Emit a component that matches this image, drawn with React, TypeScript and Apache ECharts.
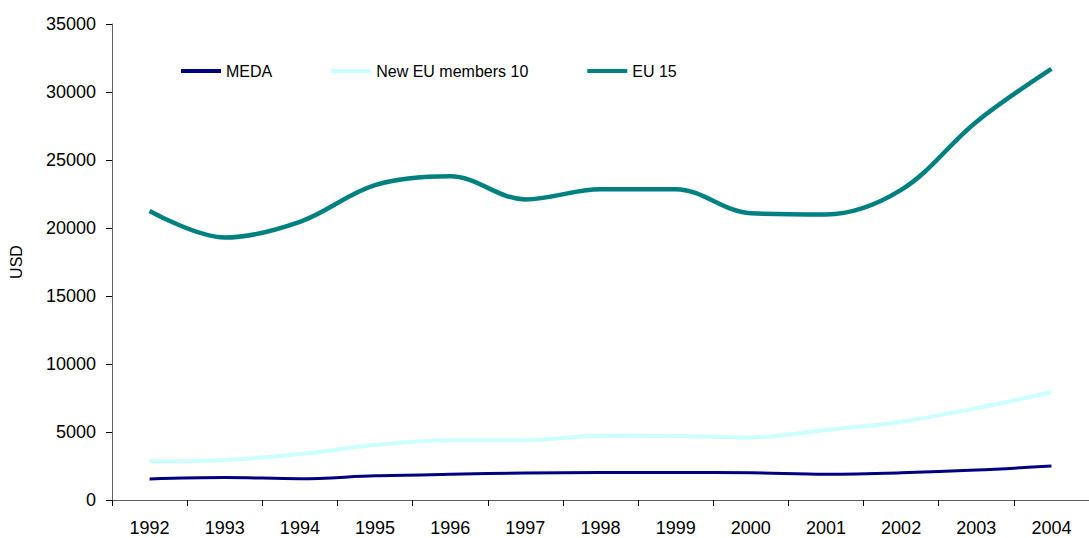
import React, { useEffect, useRef } from "react";
import * as echarts from "echarts";

const years = ["1992", "1993", "1994", "1995", "1996", "1997", "1998", "1999", "2000", "2001", "2002", "2003", "2004"];
const meda = [1550, 1650, 1570, 1780, 1890, 1980, 2020, 2020, 2000, 1900, 2000, 2200, 2500];
const newEU10 = [2850, 2950, 3380, 4040, 4390, 4400, 4730, 4700, 4600, 5150, 5760, 6740, 7920];
const eu15 = [21250, 19300, 20450, 23150, 23800, 22100, 22850, 22850, 21080, 21000, 22800, 27800, 31700];

const FONT = "'Liberation Sans', Arial, sans-serif";

export default function App() {
  const ref = useRef<HTMLDivElement>(null);
  useEffect(() => {
    if (!ref.current) return;
    const chart = echarts.init(ref.current, undefined, { renderer: "svg" });
    const axisLine = { show: true, lineStyle: { color: "#606060", width: 1 } };
    chart.setOption({
      animation: false,
      backgroundColor: "#ffffff",
      textStyle: { fontFamily: FONT },
      grid: { left: 112, top: 24, width: 986, height: 476 },
      legend: {
        left: 176,
        top: 58,
        icon: "rect",
        itemWidth: 40,
        itemHeight: 4,
        itemGap: 59,
        textStyle: { fontFamily: FONT, fontSize: 16, color: "#000" },
        data: ["MEDA", "New EU members 10", "EU 15"],
      },
      xAxis: {
        type: "category",
        data: years,
        boundaryGap: true,
        axisLine,
        axisTick: { show: true, length: 6, lineStyle: { color: "#000" } },
        axisLabel: { color: "#000", fontSize: 18, margin: 19, fontFamily: FONT },
        splitLine: { show: false },
      },
      yAxis: {
        type: "value",
        min: 0,
        max: 35000,
        interval: 5000,
        name: "USD",
        nameLocation: "middle",
        nameGap: 88,
        nameRotate: 90,
        nameTextStyle: { color: "#000", fontSize: 16, fontFamily: FONT },
        axisLine,
        axisTick: { show: true, length: 6, lineStyle: { color: "#000" } },
        axisLabel: {
          color: "#000",
          fontSize: 18,
          margin: 16,
          fontFamily: FONT,
          formatter: (v: number) => String(v),
        },
        splitLine: { show: false },
      },
      series: [
        {
          name: "MEDA",
          type: "line",
          data: meda,
          smooth: 0.35,
          symbol: "none",
          lineStyle: { color: "#000080", width: 3 },
          itemStyle: { color: "#000080" },
        },
        {
          name: "New EU members 10",
          type: "line",
          data: newEU10,
          smooth: 0.35,
          symbol: "none",
          lineStyle: { color: "#CCFFFF", width: 4 },
          itemStyle: { color: "#CCFFFF" },
        },
        {
          name: "EU 15",
          type: "line",
          data: eu15,
          smooth: 0.35,
          symbol: "none",
          lineStyle: { color: "#008080", width: 4.5 },
          itemStyle: { color: "#008080" },
        },
      ],
    });
    return () => chart.dispose();
  }, []);
  return (
    <div
      ref={ref}
      style={{ position: "fixed", left: 0, top: 0, width: 1089, height: 538, background: "#fff" }}
    />
  );
}
